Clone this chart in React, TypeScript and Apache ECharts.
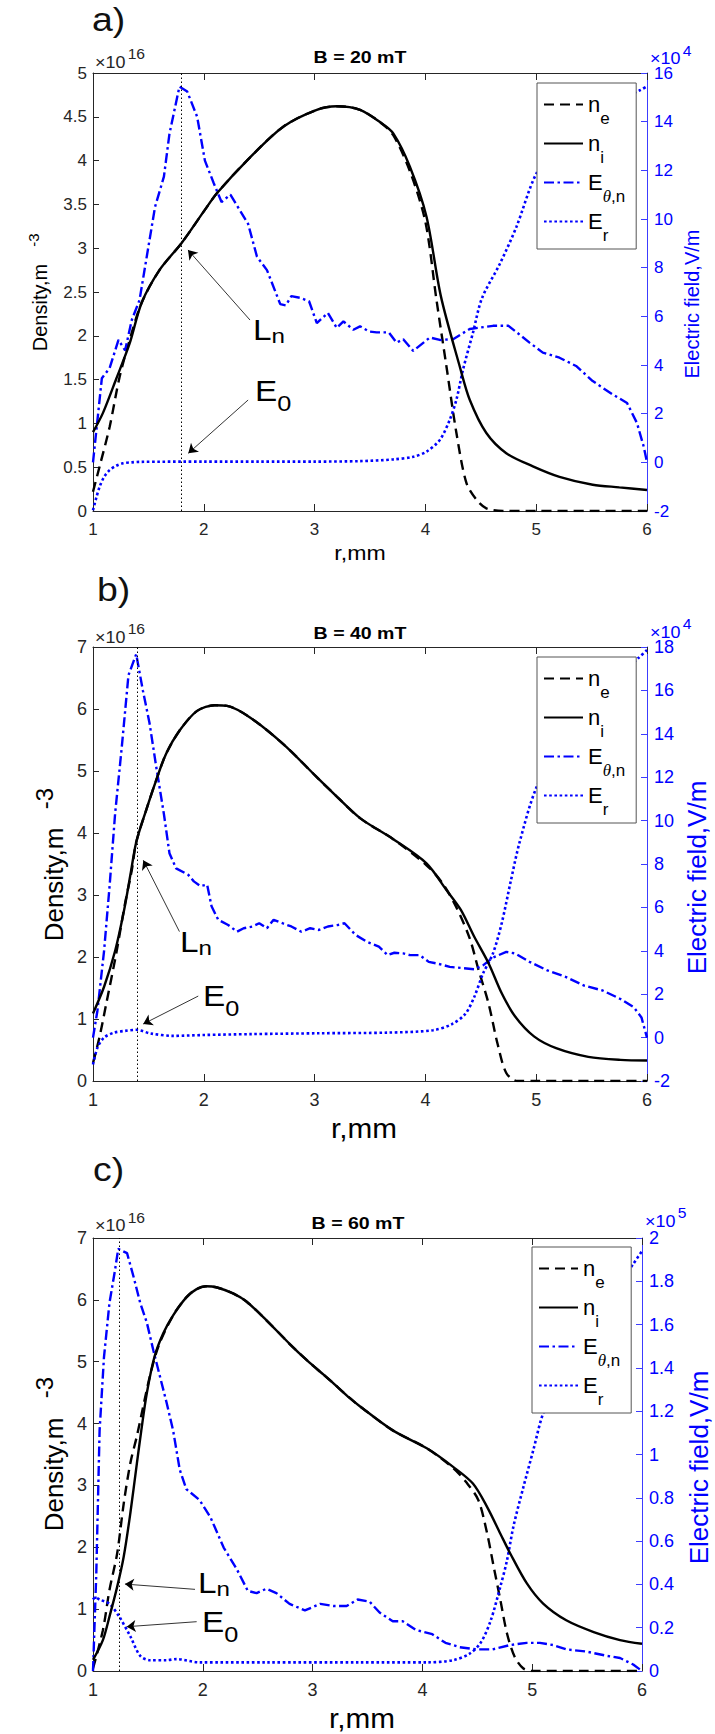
import React, { useEffect, useRef } from "react";
import * as echarts from "echarts";

const FONT = "'Liberation Sans', Arial, Helvetica, sans-serif";
const SERIF = "'Liberation Serif', 'DejaVu Serif', serif";
const BLUE = "#0000ff";
const AXIS = "#262626";

// ---------------- Panel a: B = 20 mT ----------------
const rA_ni = [1.0, 1.09, 1.21, 1.33, 1.44, 1.6, 1.8, 2.0, 2.12, 2.42, 2.72, 3.02, 3.2, 3.41, 3.6, 3.71, 3.86, 4.01, 4.14, 4.31, 4.4, 4.55, 4.73, 4.97, 5.21, 5.51, 5.75, 6.0];
const vA_ni = [0.9, 1.12, 1.51, 1.91, 2.38, 2.75, 3.06, 3.42, 3.63, 4.04, 4.39, 4.58, 4.62, 4.58, 4.43, 4.31, 3.93, 3.36, 2.45, 1.65, 1.27, 0.89, 0.66, 0.51, 0.39, 0.3, 0.27, 0.24];
const rA_ne = [1.0, 1.06, 1.15, 1.24, 1.33, 1.44, 1.6, 1.8, 2.0, 2.12, 2.42, 2.72, 3.02, 3.2, 3.41, 3.6, 3.71, 3.86, 4.0, 4.1, 4.19, 4.28, 4.37, 4.46, 4.55, 4.7, 5.0, 5.5, 6.0];
const vA_ne = [0.22, 0.51, 0.96, 1.53, 1.95, 2.38, 2.75, 3.06, 3.42, 3.63, 4.04, 4.39, 4.58, 4.62, 4.58, 4.43, 4.29, 3.88, 3.3, 2.41, 1.65, 0.89, 0.32, 0.13, 0.03, 0, 0, 0, 0];
const rA_et = [1.0, 1.08, 1.15, 1.23, 1.29, 1.35, 1.42, 1.56, 1.64, 1.69, 1.78, 1.85, 1.94, 2.01, 2.09, 2.16, 2.24, 2.4, 2.48, 2.57, 2.69, 2.74, 2.79, 2.87, 2.95, 3.02, 3.12, 3.2, 3.26, 3.35, 3.41, 3.49, 3.56, 3.67, 3.74, 3.8, 3.89, 4.04, 4.13, 4.25, 4.4, 4.61, 4.75, 4.94, 5.06, 5.21, 5.36, 5.51, 5.69, 5.82, 5.91, 5.97, 6.0];
const eA_et = [0, 3.46, 3.87, 5.03, 4.6, 5.85, 6.67, 10.5, 11.74, 13.5, 15.44, 15.24, 14.2, 12.4, 11.47, 10.7, 11.0, 9.8, 8.45, 7.9, 6.5, 6.45, 6.83, 6.76, 6.62, 5.72, 6.14, 5.52, 5.79, 5.45, 5.59, 5.38, 5.34, 5.34, 4.92, 5.06, 4.58, 5.13, 5.03, 5.06, 5.48, 5.61, 5.61, 4.92, 4.51, 4.3, 3.96, 3.34, 2.79, 2.44, 1.61, 0.65, 0];
const rA_er = [1.0, 1.03, 1.06, 1.1, 1.15, 1.21, 1.27, 1.35, 1.42, 2.0, 2.5, 3.0, 3.41, 3.71, 3.89, 4.01, 4.13, 4.22, 4.28, 4.34, 4.43, 4.51, 4.67, 4.82, 5.0, 5.2, 5.4, 5.6, 5.8, 5.94, 6.0];
const eA_er = [-1.97, -1.45, -1.0, -0.6, -0.32, -0.14, -0.04, 0, 0.02, 0.03, 0.03, 0.03, 0.05, 0.12, 0.23, 0.44, 0.92, 1.75, 2.58, 3.82, 5.34, 6.74, 8.14, 9.66, 11.86, 13.1, 14.0, 14.6, 15.0, 15.3, 15.45];

// ---------------- Panel b: B = 40 mT ----------------
const rB_ni = [1.0, 1.1, 1.2, 1.28, 1.34, 1.39, 1.48, 1.57, 1.66, 1.78, 1.94, 2.1, 2.21, 2.42, 2.72, 3.02, 3.17, 3.41, 3.71, 4.01, 4.19, 4.32, 4.44, 4.57, 4.69, 4.81, 4.98, 5.18, 5.47, 5.76, 6.0];
const vB_ni = [1.09, 1.52, 2.1, 2.75, 3.35, 3.85, 4.37, 4.85, 5.28, 5.65, 5.97, 6.06, 6.05, 5.86, 5.43, 4.9, 4.64, 4.24, 3.9, 3.51, 3.08, 2.76, 2.33, 1.9, 1.41, 1.04, 0.72, 0.53, 0.39, 0.34, 0.33];
const rB_ne = [1.0, 1.06, 1.12, 1.21, 1.29, 1.35, 1.39, 1.48, 1.57, 1.66, 1.78, 1.94, 2.1, 2.21, 2.42, 2.72, 3.02, 3.17, 3.41, 3.71, 4.01, 4.15, 4.28, 4.4, 4.48, 4.57, 4.65, 4.73, 4.83, 5.0, 5.5, 6.0];
const vB_ne = [0.29, 0.72, 1.25, 2.06, 2.87, 3.4, 3.85, 4.37, 4.85, 5.28, 5.65, 5.97, 6.06, 6.05, 5.86, 5.43, 4.9, 4.64, 4.24, 3.9, 3.48, 3.2, 2.8, 2.3, 1.79, 1.25, 0.61, 0.13, 0, 0, 0, 0];
const rB_et = [1.0, 1.04, 1.1, 1.15, 1.2, 1.26, 1.32, 1.39, 1.45, 1.51, 1.57, 1.64, 1.69, 1.75, 1.86, 1.91, 1.97, 2.03, 2.07, 2.13, 2.22, 2.3, 2.36, 2.44, 2.5, 2.57, 2.63, 2.71, 2.79, 2.88, 2.96, 3.04, 3.12, 3.21, 3.27, 3.37, 3.47, 3.58, 3.66, 3.72, 3.8, 3.86, 3.95, 4.03, 4.11, 4.22, 4.32, 4.44, 4.52, 4.61, 4.73, 4.81, 4.94, 5.1, 5.27, 5.43, 5.6, 5.76, 5.88, 5.95, 6.0];
const eB_et = [0, 1.24, 4.0, 7.0, 10.35, 13.4, 16.7, 17.67, 16.0, 14.5, 12.5, 10.3, 8.5, 7.8, 7.5, 7.2, 6.98, 7.05, 6.05, 5.43, 5.19, 4.88, 5.04, 5.12, 5.27, 5.04, 5.43, 5.27, 5.12, 4.88, 5.04, 4.96, 5.12, 5.19, 5.27, 4.73, 4.42, 4.19, 3.8, 3.91, 3.88, 3.8, 3.8, 3.49, 3.41, 3.26, 3.21, 3.15, 3.33, 3.69, 3.95, 3.88, 3.49, 3.1, 2.79, 2.4, 2.17, 1.78, 1.4, 0.93, 0];
const rB_er = [1.0, 1.04, 1.1, 1.19, 1.29, 1.39, 1.52, 1.72, 2.0, 2.42, 3.04, 3.66, 4.07, 4.24, 4.36, 4.44, 4.52, 4.61, 4.69, 4.77, 4.85, 5.0, 5.2, 5.4, 5.6, 5.8, 5.92, 6.0];
const eB_er = [-1.24, -0.47, 0, 0.23, 0.31, 0.36, 0.19, 0.08, 0.12, 0.16, 0.2, 0.23, 0.34, 0.62, 1.09, 1.86, 2.95, 3.88, 5.3, 7.2, 9.0, 11.5, 13.3, 14.7, 15.9, 16.9, 17.48, 17.86];

// ---------------- Panel c: B = 60 mT ----------------
const rC_ni = [1.0, 1.09, 1.15, 1.22, 1.28, 1.34, 1.4, 1.44, 1.49, 1.56, 1.64, 1.73, 1.85, 1.94, 2.03, 2.13, 2.28, 2.4, 2.58, 2.79, 2.95, 3.1, 3.19, 3.34, 3.43, 3.73, 4.04, 4.28, 4.46, 4.59, 4.71, 4.8, 4.95, 5.1, 5.31, 5.56, 5.8, 6.0];
const vC_ni = [0.18, 0.5, 0.88, 1.36, 1.85, 2.55, 3.36, 3.89, 4.49, 5.08, 5.46, 5.75, 6.04, 6.17, 6.22, 6.2, 6.1, 5.97, 5.67, 5.29, 5.02, 4.79, 4.65, 4.41, 4.28, 3.89, 3.6, 3.3, 3.03, 2.65, 2.22, 1.9, 1.42, 1.09, 0.82, 0.63, 0.5, 0.44];
const rC_ne = [1.0, 1.09, 1.15, 1.22, 1.28, 1.34, 1.4, 1.46, 1.52, 1.6, 1.73, 1.85, 1.94, 2.03, 2.13, 2.28, 2.4, 2.58, 2.79, 2.95, 3.1, 3.19, 3.34, 3.43, 3.73, 4.04, 4.28, 4.4, 4.51, 4.59, 4.65, 4.71, 4.77, 4.84, 4.92, 5.0, 5.5, 6.0];
const vC_ne = [0.04, 0.66, 1.31, 1.9, 2.71, 3.36, 3.8, 4.3, 4.78, 5.27, 5.75, 6.04, 6.17, 6.22, 6.2, 6.1, 5.97, 5.67, 5.29, 5.02, 4.79, 4.65, 4.41, 4.28, 3.89, 3.6, 3.28, 3.05, 2.76, 2.22, 1.68, 1.15, 0.61, 0.23, 0.04, 0, 0, 0];
const rC_et = [1.0, 1.03, 1.06, 1.1, 1.15, 1.2, 1.23, 1.31, 1.37, 1.43, 1.49, 1.55, 1.61, 1.67, 1.73, 1.79, 1.85, 1.97, 2.07, 2.19, 2.31, 2.41, 2.49, 2.58, 2.67, 2.79, 2.93, 3.07, 3.19, 3.31, 3.41, 3.52, 3.61, 3.73, 3.82, 3.94, 4.09, 4.21, 4.34, 4.49, 4.64, 4.8, 4.95, 5.07, 5.19, 5.31, 5.49, 5.68, 5.8, 5.92, 6.0];
const eC_et = [0, 0.45, 1.11, 1.45, 1.7, 1.85, 1.95, 1.93, 1.82, 1.7, 1.61, 1.48, 1.36, 1.24, 1.11, 0.93, 0.84, 0.79, 0.71, 0.57, 0.47, 0.37, 0.36, 0.38, 0.36, 0.31, 0.28, 0.31, 0.3, 0.3, 0.33, 0.32, 0.27, 0.23, 0.23, 0.19, 0.17, 0.13, 0.11, 0.1, 0.1, 0.12, 0.13, 0.13, 0.12, 0.1, 0.09, 0.07, 0.06, 0.03, 0];
const rC_er = [1.0, 1.02, 1.06, 1.15, 1.24, 1.34, 1.43, 1.52, 1.67, 1.76, 1.97, 2.58, 3.43, 4.04, 4.28, 4.43, 4.53, 4.62, 4.71, 4.77, 4.83, 4.92, 5.01, 5.1, 5.3, 5.5, 5.7, 5.85, 5.92, 6.0];
const eC_er = [0.33, 0.34, 0.33, 0.31, 0.25, 0.16, 0.07, 0.05, 0.05, 0.055, 0.04, 0.04, 0.04, 0.04, 0.05, 0.08, 0.13, 0.23, 0.39, 0.51, 0.67, 0.85, 1.02, 1.19, 1.42, 1.6, 1.73, 1.83, 1.88, 1.94];

// ---------------- axes, labels, annotations ----------------
const xRange = [1, 6, 1];
const leftRanges = [[0, 5, 0.5], [0, 7, 1], [0, 7, 1]];
const rightRanges = [[-2, 16, 2], [-2, 18, 2], [0, 2, 0.2]];
const titles = ["B = 20 mT", "B = 40 mT", "B = 60 mT"];
const letters = ["a)", "b)", "c)"];
const leftExp = ["16", "16", "16"];
const rightExp = ["4", "4", "5"];
const vLines = [1.8, 1.4, 1.24];
// arrows [from r, from n, to r, to n] in density-axis units
const arrowLn = [[2.417, 2.18, 1.857, 2.98], [1.78, 2.41, 1.454, 3.56], [1.929, 1.32, 1.291, 1.405]];
const arrowE0 = [[2.4, 1.267, 1.86, 0.659], [1.95, 1.37, 1.453, 0.919], [1.944, 0.797, 1.307, 0.716]];

const SERIES_NAMES = ["n_e", "n_i", "E_theta", "E_r"];
const LEGEND_TEXT: Record<string, string> = {
  n_e: "{b|n}{s|e}",
  n_i: "{b|n}{s|i}",
  E_theta: "{b|E}{th|θ}{s|,n}",
  E_r: "{b|E}{s|r}",
};

const zip = (r: number[], v: number[]) => r.map((x, i) => [x, v[i]]);

const DATA = [
  { ne: zip(rA_ne, vA_ne), ni: zip(rA_ni, vA_ni), et: zip(rA_et, eA_et), er: zip(rA_er, eA_er) },
  { ne: zip(rB_ne, vB_ne), ni: zip(rB_ni, vB_ni), et: zip(rB_et, eB_et), er: zip(rB_er, eB_er) },
  { ne: zip(rC_ne, vC_ne), ni: zip(rC_ni, vC_ni), et: zip(rC_et, eC_et), er: zip(rC_er, eC_er) },
];

// layout (pixels)
const LAYOUT = [
  {
    grid: { left: 93, top: 73, width: 554, height: 438 }, legend: { left: 537, top: 83 }, tick: 17,
    letter: [92, 20], title: [360, 57], lexp: [95, 62.5], rexp: [650, 59],
    yTitle: [40, 307.5, 20], ySup: [33, 240, 15], rTitle: [692, 304, 20], xTitle: [360, 553, 21],
    ln: [253, 330], e0: [255, 391],
  },
  {
    grid: { left: 93, top: 647, width: 554, height: 434 }, legend: { left: 537, top: 657 }, tick: 18,
    letter: [97, 590], title: [360, 632.5], lexp: [95, 637.5], rexp: [650, 632.5],
    yTitle: [54, 884.5, 26], ySup: [44, 798.5, 24], rTitle: [697, 877.5, 26], xTitle: [364, 1128, 27],
    ln: [180, 942], e0: [203, 996],
  },
  {
    grid: { left: 93, top: 1238, width: 549, height: 433 }, legend: { left: 532, top: 1247 }, tick: 18,
    letter: [93, 1170], title: [358, 1223], lexp: [95, 1226], rexp: [645, 1221.5],
    yTitle: [54, 1474.5, 26], ySup: [44, 1387.5, 24], rTitle: [699, 1467.5, 26], xTitle: [362, 1718, 27],
    ln: [198, 1583], e0: [202, 1622.5],
  },
];

function gText(x: number, y: number, text: string, o: any) {
  const align = o.align || "center";
  const valign = o.valign || "middle";
  const style: any = {
    text,
    fill: o.color || "#000",
    fontSize: o.size,
    fontFamily: o.family || FONT,
    fontWeight: o.weight || "normal",
    align,
    verticalAlign: valign,
    textAlign: align,
    textVerticalAlign: valign,
  };
  if (o.rich) style.rich = o.rich;
  if (o.lh) style.lineHeight = o.lh;
  return {
    type: "text",
    x,
    y,
    rotation: o.rot || 0,
    scaleX: o.sx || 1,
    scaleY: o.sy || 1,
    silent: true,
    z: 100,
    style,
  };
}

function tok(size: number, lh: number, va: string, color: string, extra: any = {}) {
  return { fontSize: size, lineHeight: lh, verticalAlign: va, fill: color, color, fontFamily: FONT, ...extra };
}

function buildOption() {
  const grid: any[] = [];
  const xAxis: any[] = [];
  const yAxis: any[] = [];
  const series: any[] = [];
  const legend: any[] = [];
  const graphic: any[] = [];

  LAYOUT.forEach((L, i) => {
    grid.push({ ...L.grid, containLabel: false });
    const axisLine = (c: string) => ({ show: true, onZero: false, lineStyle: { color: c, width: 1 } });
    const axisTick = (c: string, len: number) => ({ show: true, inside: true, length: len, lineStyle: { color: c, width: 1 } });
    xAxis.push({
      type: "value", gridIndex: i, position: "bottom", min: xRange[0], max: xRange[1], interval: xRange[2],
      axisLine: axisLine(AXIS), axisTick: axisTick(AXIS, 7), splitLine: { show: false },
      axisLabel: { fontSize: L.tick, color: AXIS, fontFamily: FONT, margin: 10, showMinLabel: true, showMaxLabel: true },
    });
    xAxis.push({
      type: "value", gridIndex: i, position: "top", min: xRange[0], max: xRange[1], interval: xRange[2],
      axisLine: axisLine(AXIS), axisTick: axisTick(AXIS, 7), splitLine: { show: false }, axisLabel: { show: false },
    });
    const lr = leftRanges[i];
    const rr = rightRanges[i];
    yAxis.push({
      type: "value", gridIndex: i, position: "left", min: lr[0], max: lr[1], interval: lr[2],
      axisLine: axisLine(AXIS), axisTick: axisTick(AXIS, 6), splitLine: { show: false },
      axisLabel: { fontSize: L.tick, color: AXIS, fontFamily: FONT, margin: 6, showMinLabel: true, showMaxLabel: true },
    });
    yAxis.push({
      type: "value", gridIndex: i, position: "right", min: rr[0], max: rr[1], interval: rr[2],
      axisLine: axisLine("#3c3cff"), axisTick: axisTick("#3c3cff", 6), splitLine: { show: false },
      axisLabel: {
        fontSize: L.tick, color: BLUE, fontFamily: FONT, margin: 7, showMinLabel: true, showMaxLabel: true,
        formatter: (v: number) => String(Math.round(v * 100) / 100),
      },
    });

    const d = DATA[i];
    const base = { type: "line", xAxisIndex: 2 * i, symbol: "none", showSymbol: false, animation: false, emphasis: { disabled: true }, clip: true };
    const aLn = arrowLn[i];
    const aE0 = arrowE0[i];
    const arrowStyle = { color: "#000", width: 0.8, type: "solid" };
    series.push({
      ...base, name: "n_e", yAxisIndex: 2 * i, data: d.ne, smooth: 0.3, z: 3,
      itemStyle: { color: "#000" }, lineStyle: { color: "#000", width: 2.4, type: [10, 6] },
    });
    series.push({
      ...base, name: "n_i", yAxisIndex: 2 * i, data: d.ni, smooth: 0.3, z: 4,
      itemStyle: { color: "#000" }, lineStyle: { color: "#000", width: 2.4, type: "solid" },
      markLine: {
        silent: true, animation: false, symbol: ["none", "none"], label: { show: false }, emphasis: { disabled: true },
        data: [
          { xAxis: vLines[i], lineStyle: { color: "#000", width: 1, type: [1.5, 2.5] } },
          [
            { coord: [aLn[0], aLn[1]], symbol: "none", lineStyle: arrowStyle },
            { coord: [aLn[2], aLn[3]], symbol: "arrow", symbolSize: 9 },
          ],
          [
            { coord: [aE0[0], aE0[1]], symbol: "none", lineStyle: arrowStyle },
            { coord: [aE0[2], aE0[3]], symbol: "arrow", symbolSize: 9 },
          ],
        ],
      },
    });
    series.push({
      ...base, name: "E_theta", yAxisIndex: 2 * i + 1, data: d.et, smooth: false, z: 3,
      itemStyle: { color: BLUE }, lineStyle: { color: BLUE, width: 2.4, type: [10, 3.5, 2.5, 3.5] },
    });
    series.push({
      ...base, name: "E_r", yAxisIndex: 2 * i + 1, data: d.er, smooth: 0.3, z: 3,
      itemStyle: { color: BLUE }, lineStyle: { color: BLUE, width: 2.6, type: [2.6, 2.6] },
    });

    legend.push({
      show: true, orient: "vertical", left: L.legend.left, top: L.legend.top, data: SERIES_NAMES,
      itemWidth: 39, itemHeight: 2, itemGap: 6, padding: [10.5, 11, 5.5, 6],
      itemStyle: { opacity: 0 },
      borderColor: "#555", borderWidth: 1, backgroundColor: "#fff", selectedMode: false, z: 20,
      formatter: (n: string) => LEGEND_TEXT[n],
      textStyle: {
        fontFamily: FONT, color: "#000",
        rich: {
          b: tok(22, 44, "middle", "#000"),
          s: tok(17, 17, "bottom", "#000"),
          th: tok(17, 17, "bottom", "#000", { fontStyle: "italic", fontFamily: SERIF }),
        },
      },
    });

    // panel letter and title
    graphic.push(gText(L.letter[0], L.letter[1], letters[i], { size: 34, lh: 36, align: "left", sx: 1.1, color: "#111" }));
    graphic.push(gText(L.title[0], L.title[1], titles[i], { size: 17, weight: "bold", sx: 1.15 }));
    // exponents
    const expRich = (c: string) => ({
      b: tok(16, 30, "middle", c),
      s: tok(14, 14, "top", c, { padding: [0, 0, 0, 2] }),
    });
    graphic.push(gText(L.lexp[0], L.lexp[1], `{b|×10}{s|${leftExp[i]}}`, { size: 16, align: "left", rich: expRich(AXIS), sx: 1.12 }));
    graphic.push(gText(L.rexp[0], L.rexp[1], `{b|×10}{s|${rightExp[i]}}`, { size: 16, align: "left", rich: expRich(BLUE), color: BLUE, sx: 1.12 }));
    // axis titles
    graphic.push(gText(L.yTitle[0], L.yTitle[1], "Density,m", { size: L.yTitle[2], rot: Math.PI / 2 }));
    graphic.push(gText(L.ySup[0], L.ySup[1], "-3", { size: L.ySup[2], rot: Math.PI / 2 }));
    graphic.push(gText(L.rTitle[0], L.rTitle[1], "Electric field,V/m", { size: L.rTitle[2], rot: Math.PI / 2, color: BLUE }));
    graphic.push(gText(L.xTitle[0], L.xTitle[1], "r,mm", { size: L.xTitle[2], sx: 1.1 }));
    // annotation labels
    const lnRich = {
      b: tok(29, 33, "middle", "#000"),
      n: tok(21, 21, "bottom", "#000"),
    };
    const e0Rich = {
      b: tok(29, 47, "middle", "#000"),
      z: tok(22, 22, "bottom", "#000"),
    };
    graphic.push(gText(L.ln[0], L.ln[1], "{b|L}{n|n}", { size: 29, align: "left", rich: lnRich, sx: 1.15 }));
    graphic.push(gText(L.e0[0], L.e0[1], "{b|E}{z|0}", { size: 29, align: "left", rich: e0Rich, sx: 1.15 }));
  });

  return {
    animation: false,
    backgroundColor: "#fff",
    textStyle: { fontFamily: FONT },
    grid,
    xAxis,
    yAxis,
    series,
    legend,
    graphic: { elements: graphic },
  };
}

export default function App() {
  const ref = useRef<HTMLDivElement>(null);
  useEffect(() => {
    if (!ref.current) return;
    const chart = echarts.init(ref.current, null, { renderer: "svg" });
    chart.setOption(buildOption() as any);
    return () => chart.dispose();
  }, []);
  return (
    <div
      ref={ref}
      style={{ position: "absolute", left: 0, top: 0, width: 715, height: 1734, background: "#fff" }}
    />
  );
}
